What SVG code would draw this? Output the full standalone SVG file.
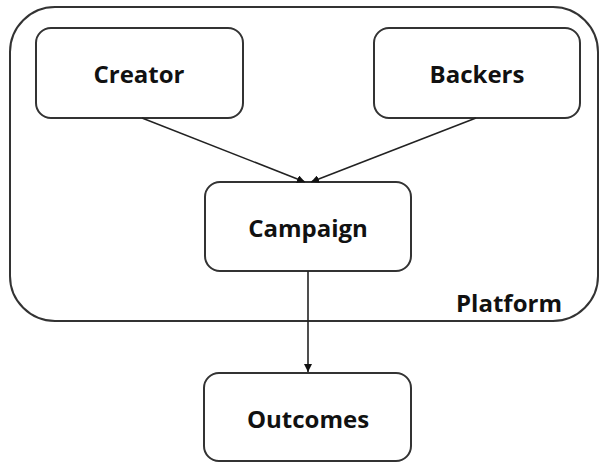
<svg xmlns="http://www.w3.org/2000/svg" width="601" height="463" viewBox="0 0 601 463">
<style>
.box{fill:#fff;stroke:#333;stroke-width:2}
.lbl{font-family:"Open Sans","Liberation Sans",sans-serif;font-weight:bold;font-size:24px;fill:#111;text-anchor:middle}
.edge{stroke:#222;stroke-width:1.6;fill:none}
</style>
<defs>
<marker id="ah" viewBox="0 0 10 10" refX="10" refY="5" markerWidth="8" markerHeight="8" orient="auto" markerUnits="userSpaceOnUse">
<path d="M0,0 L10,5 L0,10 z" fill="#111"/>
</marker>
</defs>
<rect width="601" height="463" fill="#fff"/>
<g id="platform">
<rect class="box" x="10" y="7" width="588" height="314" rx="45" ry="45" fill="none"/>
<text class="lbl" x="509" y="312">Platform</text>
</g>
<g id="creator">
<rect class="box" x="36" y="28" width="207" height="90" rx="15"/>
<text class="lbl" x="139" y="83">Creator</text>
</g>
<g id="backers">
<rect class="box" x="374" y="28" width="206" height="90" rx="15"/>
<text class="lbl" x="477" y="83">Backers</text>
</g>
<g id="campaign">
<rect class="box" x="205" y="182" width="206" height="89" rx="15"/>
<text class="lbl" x="308" y="237">Campaign</text>
</g>
<g id="outcomes">
<rect class="box" x="204" y="373" width="207" height="88" rx="15"/>
<text class="lbl" x="308" y="428">Outcomes</text>
</g>
<g id="connectors">
<line class="edge" x1="142" y1="118" x2="305" y2="182" marker-end="url(#ah)"/>
<line class="edge" x1="476" y1="118" x2="311" y2="182" marker-end="url(#ah)"/>
<line class="edge" x1="308" y1="271" x2="308" y2="372" marker-end="url(#ah)"/>
</g>
</svg>
